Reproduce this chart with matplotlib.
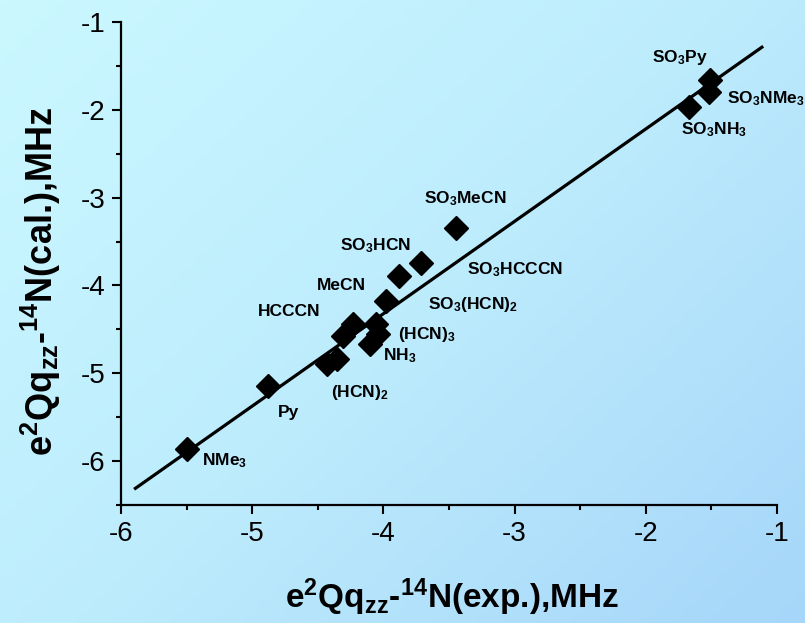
import numpy as np
import matplotlib
matplotlib.use("Agg")
import matplotlib.pyplot as plt
from matplotlib.ticker import MultipleLocator
from matplotlib.colors import LinearSegmentedColormap

plt.rcParams['font.family'] = ['Liberation Sans', 'DejaVu Sans']
plt.rcParams['mathtext.fontset'] = 'custom'
plt.rcParams['mathtext.rm'] = 'Liberation Sans:bold'
plt.rcParams['mathtext.it'] = 'Liberation Sans:bold'
plt.rcParams['mathtext.bf'] = 'Liberation Sans:bold'
plt.rcParams['axes.unicode_minus'] = False

# 14N quadrupole coupling constants, MHz
exp_vals = [-5.50, -4.88, -4.43, -4.35, -4.31, -4.23, -4.06, -4.04, -4.10,
            -3.98, -3.88, -3.71, -3.45, -1.67, -1.51, -1.52]
cal_vals = [-5.86, -5.15, -4.89, -4.84, -4.58, -4.44, -4.44, -4.55, -4.67,
            -4.18, -3.89, -3.75, -3.35, -1.97, -1.66, -1.80]

# linear fit drawn through the points
fit_slope = 1.052
fit_icept = -0.114
fit_range = (-5.89, -1.115)

labels = [r'SO$_3$Py', r'SO$_3$NMe$_3$', r'SO$_3$NH$_3$', r'SO$_3$MeCN',
          r'SO$_3$HCCCN', r'SO$_3$HCN', 'MeCN', 'HCCCN', r'SO$_3$(HCN)$_2$',
          r'(HCN)$_3$', r'NH$_3$', r'(HCN)$_2$', 'Py', r'NMe$_3$']
# left edge / baseline of each label, data units
label_pos = [(-1.956, -1.45), (-1.382, -1.93), (-1.734, -2.28), (-3.691, -3.07),
             (-3.362, -3.87), (-4.333, -3.60), (-4.509, -4.05), (-4.953, -4.35),
             (-3.661, -4.27), (-3.890, -4.61), (-4.005, -4.85), (-4.402, -5.27),
             (-4.807, -5.50), (-5.381, -6.05)]

fig = plt.figure(figsize=(8.05, 6.23), dpi=100)

# light blue diagonal gradient behind everything
bg = fig.add_axes([0, 0, 1, 1], zorder=-10)
gx, gy = np.meshgrid(np.linspace(0, 1, 200), np.linspace(0, 1, 200))
cmap = LinearSegmentedColormap.from_list('bg', ['#cbf8ff', '#bdecfd', '#a6d6f9'])
bg.imshow(0.55 * gx + 0.45 * gy, cmap=cmap, aspect='auto', extent=[0, 1, 0, 1],
          origin='upper')
bg.axis('off')

ax = fig.add_axes([0.1503, 0.1894, 0.8149, 0.7753])
ax.patch.set_alpha(0)

xs = np.array(fit_range)
ax.plot(xs, fit_slope * xs + fit_icept, color='black', lw=2.3, zorder=2)
ax.plot(exp_vals, cal_vals, 'D', color='black', ms=12, mew=1, zorder=3)

for txt, (tx, ty) in zip(labels, label_pos):
    ax.text(tx, ty, txt, fontsize=12.5, fontweight='bold', ha='left', va='baseline')

ax.set_xlim(-6, -1)
ax.set_ylim(-6.5, -1)
ax.xaxis.set_major_locator(MultipleLocator(1))
ax.xaxis.set_minor_locator(MultipleLocator(0.5))
ax.yaxis.set_major_locator(MultipleLocator(1))
ax.yaxis.set_minor_locator(MultipleLocator(0.5))

for s in ['top', 'right']:
    ax.spines[s].set_visible(False)
for s in ['left', 'bottom']:
    ax.spines[s].set_linewidth(1.6)

ax.tick_params(which='major', direction='out', length=6.5, width=1.5,
               labelsize=20, pad=5)
ax.tick_params(which='minor', direction='out', length=3.5, width=1.5)

fig.text(452 / 805, 1 - 608 / 623, r'e$^2$Qq$_{zz}$-$^{14}$N(exp.),MHz',
         fontsize=24, fontweight='bold', ha='center', va='baseline')
fig.text(53 / 805, 1 - 281 / 623, r'e$^2$Qq$_{zz}$-$^{14}$N(cal.),MHz',
         fontsize=26, fontweight='bold', ha='center', va='baseline',
         rotation=90, rotation_mode='anchor')

fig.savefig('out.png', dpi=100)
